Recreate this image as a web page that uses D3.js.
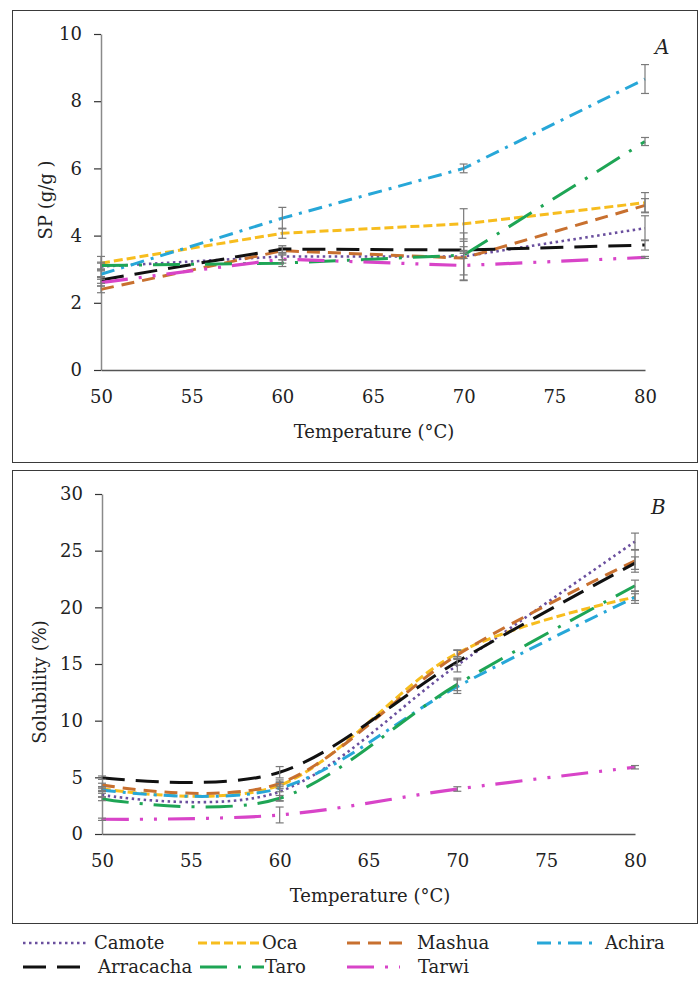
<!DOCTYPE html>
<html>
<head>
<meta charset="utf-8">
<script src="https://cdn.jsdelivr.net/npm/d3@7"></script>
<style>
  html, body { margin: 0; padding: 0; background: #fff; }
  svg { display: block; }
  text { font-family: "DejaVu Serif", serif; fill: #222; }
</style>
</head>
<body>
<svg id="chart" width="699" height="981"></svg>
<script>
// ---------- data ----------
const temps = [50, 60, 70, 80];
const seriesNames = ["Camote", "Oca", "Mashua", "Achira", "Arracacha", "Taro", "Tarwi"];

// Swelling power SP (g/g) — panel A
const spCamote    = [3.08, 3.38, 3.38, 4.22];
const spOca       = [3.18, 4.07, 4.35, 4.98];
const spMashua    = [2.40, 3.55, 3.33, 4.90];
const spAchira    = [2.85, 4.52, 6.00, 8.66];
const spArracacha = [2.68, 3.60, 3.57, 3.72];
const spTaro      = [3.11, 3.18, 3.42, 6.80];
const spTarwi     = [2.60, 3.30, 3.11, 3.35];

const spErrCamote    = [0.10, 0.10, 0.70, 0.37];
const spErrOca       = [0.20, 0.15, 0.45, 0.30];
const spErrMashua    = [0.10, 0.10, 0.50, 0.20];
const spErrAchira    = [0.10, 0.32, 0.13, 0.43];
const spErrArracacha = [0.10, 0.10, 0.10, 0.15];
const spErrTaro      = [0.10, 0.10, 0.10, 0.12];
const spErrTarwi     = [0.10, 0.12, 0.45, 0.03];

// Solubility (%) — panel B
const solCamote    = [3.44, 3.74, 14.9, 25.8];
const solOca       = [4.00, 4.30, 15.95, 20.9];
const solMashua    = [4.33, 4.47, 15.8, 24.1];
const solAchira    = [3.89, 4.03, 13.0, 20.9];
const solArracacha = [4.97, 5.45, 15.2, 23.9];
const solTaro      = [3.09, 3.15, 13.2, 21.9];
const solTarwi     = [1.30, 1.68, 3.97, 5.89];

const solErrCamote    = [0.15, 0.80, 0.60, 0.75];
const solErrOca       = [0.15, 0.30, 0.30, 0.30];
const solErrMashua    = [0.15, 0.30, 0.40, 1.00];
const solErrAchira    = [0.15, 0.30, 0.60, 0.55];
const solErrArracacha = [0.15, 0.50, 0.30, 0.55];
const solErrTaro      = [0.15, 0.25, 0.55, 0.50];
const solErrTarwi     = [0.10, 0.70, 0.20, 0.15];

const spTicks  = [0, 2, 4, 6, 8, 10];
const solTicks = [0, 5, 10, 15, 20, 25, 30];
const xTicks   = [50, 55, 60, 65, 70, 75, 80];

// ---------- styles ----------
const colors = {
  Camote: "#6a4f9e", Oca: "#f7bd1e", Mashua: "#c8702f", Achira: "#27a7d8",
  Arracacha: "#111111", Taro: "#1ea555", Tarwi: "#d844c8"
};
const dashes = {
  Camote: "2.5,3.5", Oca: "9,4", Mashua: "13,8", Achira: "14,7,3,7",
  Arracacha: "23,11", Taro: "27,11,3,11", Tarwi: "27,11,3,11,3,11"
};
const widths = { Camote: 2.6, Oca: 3, Mashua: 3, Achira: 3, Arracacha: 3, Taro: 3, Tarwi: 3.2 };

const spData = {
  Camote: spCamote, Oca: spOca, Mashua: spMashua, Achira: spAchira,
  Arracacha: spArracacha, Taro: spTaro, Tarwi: spTarwi
};
const spErr = {
  Camote: spErrCamote, Oca: spErrOca, Mashua: spErrMashua, Achira: spErrAchira,
  Arracacha: spErrArracacha, Taro: spErrTaro, Tarwi: spErrTarwi
};
const solData = {
  Camote: solCamote, Oca: solOca, Mashua: solMashua, Achira: solAchira,
  Arracacha: solArracacha, Taro: solTaro, Tarwi: solTarwi
};
const solErr = {
  Camote: solErrCamote, Oca: solErrOca, Mashua: solErrMashua, Achira: solErrAchira,
  Arracacha: solErrArracacha, Taro: solErrTaro, Tarwi: solErrTarwi
};

const svg = d3.select("#chart");

function panel(cfg) {
  const g = svg.append("g");
  // frame
  g.append("rect")
    .attr("x", cfg.frame[0] + 0.5).attr("y", cfg.frame[1] + 0.5)
    .attr("width", cfg.frame[2]).attr("height", cfg.frame[3])
    .attr("fill", "none").attr("stroke", "#3a3a3a").attr("stroke-width", 1);

  const x = d3.scaleLinear().domain([50, 80]).range(cfg.xr);
  const y = d3.scaleLinear().domain(cfg.yd).range(cfg.yr);

  // y axis
  const ya = g.append("g").attr("transform", `translate(${cfg.xr[0]},0)`)
    .call(d3.axisLeft(y).tickValues(cfg.yTicks).tickSize(7).tickSizeOuter(0).tickPadding(12));
  ya.select(".domain").attr("stroke", "#8a8a8a").attr("stroke-width", 1.5);
  ya.selectAll(".tick line").attr("stroke", "#333").attr("stroke-width", 1.2);
  ya.selectAll(".tick text").attr("font-size", 18).attr("font-family", "DejaVu Serif").attr("fill", "#222");

  // x axis
  const xa = g.append("g").attr("transform", `translate(0,${cfg.yr[0]})`)
    .call(d3.axisBottom(x).tickValues(xTicks).tickSize(0).tickSizeOuter(0).tickPadding(cfg.xPad));
  xa.select(".domain").attr("stroke", "#555").attr("stroke-width", 1.5);
  xa.selectAll(".tick text").attr("font-size", 18).attr("font-family", "DejaVu Serif").attr("fill", "#222");

  // axis titles
  g.append("text").attr("x", cfg.xTitle[0]).attr("y", cfg.xTitle[1])
    .attr("text-anchor", "middle").attr("font-size", 18).text("Temperature (°C)");
  g.append("text").attr("transform", `translate(${cfg.yTitle[0]},${cfg.yTitle[1]}) rotate(-90)`)
    .attr("text-anchor", "middle").attr("font-size", 18).text(cfg.yLabel);

  // panel letter
  g.append("text").attr("x", cfg.letterPos[0]).attr("y", cfg.letterPos[1])
    .attr("font-size", 20).attr("font-style", "italic").text(cfg.letter);

  const line = d3.line().x((d, i) => x(temps[i])).y(d => y(d)).curve(cfg.curve);

  seriesNames.forEach(name => {
    g.append("path").datum(cfg.data[name])
      .attr("d", line).attr("fill", "none")
      .attr("stroke", colors[name]).attr("stroke-width", widths[name])
      .attr("stroke-dasharray", dashes[name]);
  });

  // error bars
  const eg = g.append("g").attr("stroke", "#7a7a7a").attr("stroke-width", 1.2);
  seriesNames.forEach(name => {
    cfg.data[name].forEach((v, i) => {
      const e = cfg.err[name][i];
      const cx = x(temps[i]);
      const y1 = y(v - e), y2 = y(v + e);
      eg.append("line").attr("x1", cx).attr("x2", cx).attr("y1", y1).attr("y2", y2);
      eg.append("line").attr("x1", cx - 4).attr("x2", cx + 4).attr("y1", y1).attr("y2", y1);
      eg.append("line").attr("x1", cx - 4).attr("x2", cx + 4).attr("y1", y2).attr("y2", y2);
    });
  });
}

panel({
  frame: [12, 10, 685, 452], xr: [101, 645], yr: [370, 34], yd: [0, 10],
  yTicks: spTicks, xPad: 20, xTitle: [374, 438], yTitle: [52, 200], yLabel: "SP (g/g )",
  letter: "A", letterPos: [655, 54], data: spData, err: spErr, curve: d3.curveLinear
});

panel({
  frame: [12, 470, 685, 453], xr: [102, 635], yr: [834, 494], yd: [0, 30],
  yTicks: solTicks, xPad: 20, xTitle: [370, 902], yTitle: [46, 682], yLabel: "Solubility (%)",
  letter: "B", letterPos: [651, 514], data: solData, err: solErr, curve: d3.curveCatmullRom.alpha(0)
});

// ---------- legend ----------
const legendItems = [
  { name: "Camote",    x1: 23,  x2: 89,  tx: 94,  row: 0 },
  { name: "Oca",       x1: 198, x2: 261, tx: 262, row: 0 },
  { name: "Mashua",    x1: 347, x2: 408, tx: 417, row: 0 },
  { name: "Achira",    x1: 537, x2: 596, tx: 605, row: 0 },
  { name: "Arracacha", x1: 23,  x2: 91,  tx: 98,  row: 1 },
  { name: "Taro",      x1: 200, x2: 264, tx: 265, row: 1 },
  { name: "Tarwi",     x1: 347, x2: 400, tx: 418, row: 1 }
];
const rowY = [943, 967];
const lg = svg.append("g");
legendItems.forEach(it => {
  const yy = rowY[it.row];
  lg.append("line").attr("x1", it.x1).attr("x2", it.x2).attr("y1", yy).attr("y2", yy)
    .attr("stroke", colors[it.name]).attr("stroke-width", widths[it.name])
    .attr("stroke-dasharray", dashes[it.name]);
  lg.append("text").attr("x", it.tx).attr("y", yy + 6).attr("font-size", 18).text(it.name);
});
</script>
</body>
</html>
